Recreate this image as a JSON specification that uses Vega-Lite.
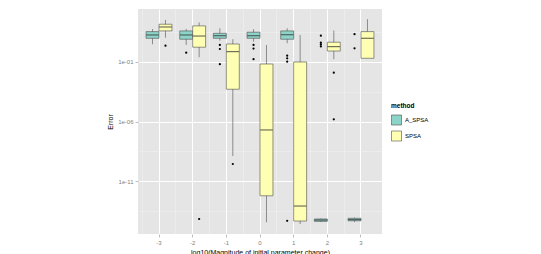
{
  "$schema": "https://vega.github.io/schema/vega-lite/v6.json",
  "width": 244,
  "height": 225,
  "autosize": "none",
  "padding": {"left": 138, "top": 9, "right": 159, "bottom": 20},
  "background": "white",
  "config": {
    "font": "Liberation Sans",
    "view": {"stroke": null, "fill": "#E5E5E5"}
  },
  "datasets": {
    "boxes": [
      {"x": -3, "method": "A_SPSA", "lower": 3.09, "q1": 9.77, "median": 18.6, "q3": 35.5, "upper": 58.9},
      {"x": -3, "method": "SPSA", "lower": 10.96, "q1": 40.7, "median": 87.1, "q3": 147.9, "upper": 338.8},
      {"x": -2, "method": "A_SPSA", "lower": 2.69, "q1": 8.13, "median": 18.6, "q3": 40.7, "upper": 58.9},
      {"x": -2, "method": "SPSA", "lower": 0.251, "q1": 1.74, "median": 15.1, "q3": 107.2, "upper": 208.9},
      {"x": -1, "method": "A_SPSA", "lower": 6.17, "q1": 9.77, "median": 16.2, "q3": 25.7, "upper": 67.6},
      {"x": -1, "method": "SPSA", "lower": 1.26e-9, "q1": 5.13e-4, "median": 0.741, "q3": 3.24, "upper": 8.13},
      {"x": 0, "method": "A_SPSA", "lower": 5.13, "q1": 9.77, "median": 16.2, "q3": 31.6, "upper": 56.2},
      {"x": 0, "method": "SPSA", "lower": 3.39e-15, "q1": 5.75e-13, "median": 1.95e-7, "q3": 0.0676, "upper": 2.69},
      {"x": 1, "method": "A_SPSA", "lower": 3.72, "q1": 8.13, "median": 19.5, "q3": 40.7, "upper": 67.6},
      {"x": 1, "method": "SPSA", "lower": 2.45e-15, "q1": 4.37e-15, "median": 7.94e-14, "q3": 0.1, "upper": 18.6},
      {"x": 2, "method": "A_SPSA", "lower": 3.55e-15, "q1": 4.07e-15, "median": 5.25e-15, "q3": 6.46e-15, "upper": 7.08e-15},
      {"x": 2, "method": "SPSA", "lower": 0.17, "q1": 0.832, "median": 1.95, "q3": 4.57, "upper": 42.7},
      {"x": 3, "method": "A_SPSA", "lower": 3.55e-15, "q1": 4.57e-15, "median": 5.75e-15, "q3": 7.41e-15, "upper": 8.51e-15},
      {"x": 3, "method": "SPSA", "lower": 0.204, "q1": 0.204, "median": 9.77, "q3": 35.5, "upper": 389}
    ],
    "outliers": [
      {"x": -3, "method": "SPSA", "value": 2.34},
      {"x": -2, "method": "A_SPSA", "value": 0.603},
      {"x": -2, "method": "SPSA", "value": 6.46e-15},
      {"x": -1, "method": "A_SPSA", "value": 2.69},
      {"x": -1, "method": "A_SPSA", "value": 1.23},
      {"x": -1, "method": "A_SPSA", "value": 0.0646},
      {"x": -1, "method": "SPSA", "value": 2.69e-10},
      {"x": 0, "method": "A_SPSA", "value": 2.69},
      {"x": 0, "method": "A_SPSA", "value": 1.35},
      {"x": 0, "method": "A_SPSA", "value": 0.17},
      {"x": 1, "method": "A_SPSA", "value": 0.339},
      {"x": 1, "method": "A_SPSA", "value": 0.204},
      {"x": 1, "method": "A_SPSA", "value": 0.107},
      {"x": 1, "method": "A_SPSA", "value": 4.57e-15},
      {"x": 2, "method": "A_SPSA", "value": 16.2},
      {"x": 2, "method": "A_SPSA", "value": 4.17},
      {"x": 2, "method": "A_SPSA", "value": 2.95},
      {"x": 2, "method": "A_SPSA", "value": 2.0},
      {"x": 2, "method": "SPSA", "value": 0.0126},
      {"x": 2, "method": "SPSA", "value": 1.51e-6},
      {"x": 3, "method": "A_SPSA", "value": 21.4},
      {"x": 3, "method": "A_SPSA", "value": 1.41}
    ]
  },
  "resolve": {"axis": {"x": "independent"}},
  "layer": [
    {
      "data": {"name": "boxes"},
      "mark": {"type": "rule", "color": "#4D4D4D", "strokeWidth": 0.6},
      "encoding": {
        "x": {
          "field": "x", "type": "ordinal",
          "scale": {"paddingInner": 0, "paddingOuter": 0.124},
          "axis": {
            "title": "log10(Magnitude of initial parameter change)",
            "titleFontSize": 7, "titleFontWeight": "normal", "titleColor": "#000000", "titlePadding": 3,
            "labelAngle": 0, "labelFontSize": 6, "labelColor": "#7F7F7F", "labelPadding": 2,
            "bandPosition": 0.5,
            "grid": true, "gridColor": "#FFFFFF", "gridWidth": 1,
            "domain": false, "ticks": true, "tickColor": "#7F7F7F", "tickSize": 3, "tickWidth": 0.5
          }
        },
        "xOffset": {"field": "method", "type": "nominal", "scale": {"paddingInner": 0, "paddingOuter": 0.3}},
        "y": {
          "field": "lower", "type": "quantitative", "title": "Error",
          "scale": {"type": "log", "domain": [3.55e-16, 2818], "nice": false, "zero": false},
          "axis": {
            "values": [31.62, 0.1, 3.162e-4, 1e-6, 3.162e-9, 1e-11, 3.162e-14],
            "labelExpr": "abs(log(datum.value)/LN10 - round(log(datum.value)/LN10)) > 0.25 ? '' : (datum.value > 0.01 ? '1e-01' : (datum.value > 1e-8 ? '1e-06' : '1e-11'))",
            "gridColor": {"condition": {"test": "abs(log(datum.value)/LN10 - round(log(datum.value)/LN10)) > 0.25", "value": "#F2F2F2"}, "value": "#FFFFFF"},
            "gridWidth": {"condition": {"test": "abs(log(datum.value)/LN10 - round(log(datum.value)/LN10)) > 0.25", "value": 0.5}, "value": 1},
            "tickOpacity": {"condition": {"test": "abs(log(datum.value)/LN10 - round(log(datum.value)/LN10)) > 0.25", "value": 0}, "value": 1},
            "grid": true, "domain": false,
            "tickColor": "#7F7F7F", "tickSize": 3, "tickWidth": 0.5,
            "labelFontSize": 6, "labelColor": "#7F7F7F", "labelPadding": 2,
            "titleFontSize": 7, "titleFontWeight": "normal", "titleColor": "#000000", "titlePadding": 4
          }
        },
        "y2": {"field": "upper"}
      }
    },
    {
      "data": {"name": "boxes"},
      "mark": {"type": "bar", "stroke": "#4D4D4D", "strokeWidth": 0.6},
      "encoding": {
        "x": {"field": "x", "type": "ordinal", "axis": null},
        "xOffset": {"field": "method", "type": "nominal"},
        "y": {"field": "q1", "type": "quantitative", "title": "Error"},
        "y2": {"field": "q3"},
        "fill": {
          "field": "method", "type": "nominal",
          "scale": {"domain": ["A_SPSA", "SPSA"], "range": ["#8DD3C7", "#FFFFB3"]},
          "legend": {
            "title": "method", "orient": "none", "legendX": 253, "legendY": 94,
            "titleFontSize": 6.5, "titleFontWeight": "bold", "titleColor": "#000000", "titlePadding": 5,
            "labelFontSize": 6, "labelColor": "#000000", "labelOffset": 3,
            "symbolType": "square", "symbolSize": 100, "symbolStrokeColor": "#4D4D4D", "symbolStrokeWidth": 0.6,
            "rowPadding": 3
          }
        }
      }
    },
    {
      "data": {"name": "boxes"},
      "mark": {"type": "tick", "color": "#333333", "thickness": 1.2, "size": 12.6, "orient": "horizontal"},
      "encoding": {
        "x": {"field": "x", "type": "ordinal", "axis": null},
        "xOffset": {"field": "method", "type": "nominal"},
        "y": {"field": "median", "type": "quantitative", "title": "Error"}
      }
    },
    {
      "data": {"name": "outliers"},
      "mark": {"type": "point", "filled": true, "color": "#000000", "size": 5, "opacity": 1},
      "encoding": {
        "x": {
          "field": "x", "type": "ordinal",
          "axis": {"orient": "top", "bandPosition": 0, "grid": true, "gridColor": "#F2F2F2", "gridWidth": 0.5, "labels": false, "ticks": false, "domain": false, "title": null}
        },
        "xOffset": {"field": "method", "type": "nominal"},
        "y": {"field": "value", "type": "quantitative", "title": "Error"}
      }
    }
  ]
}
